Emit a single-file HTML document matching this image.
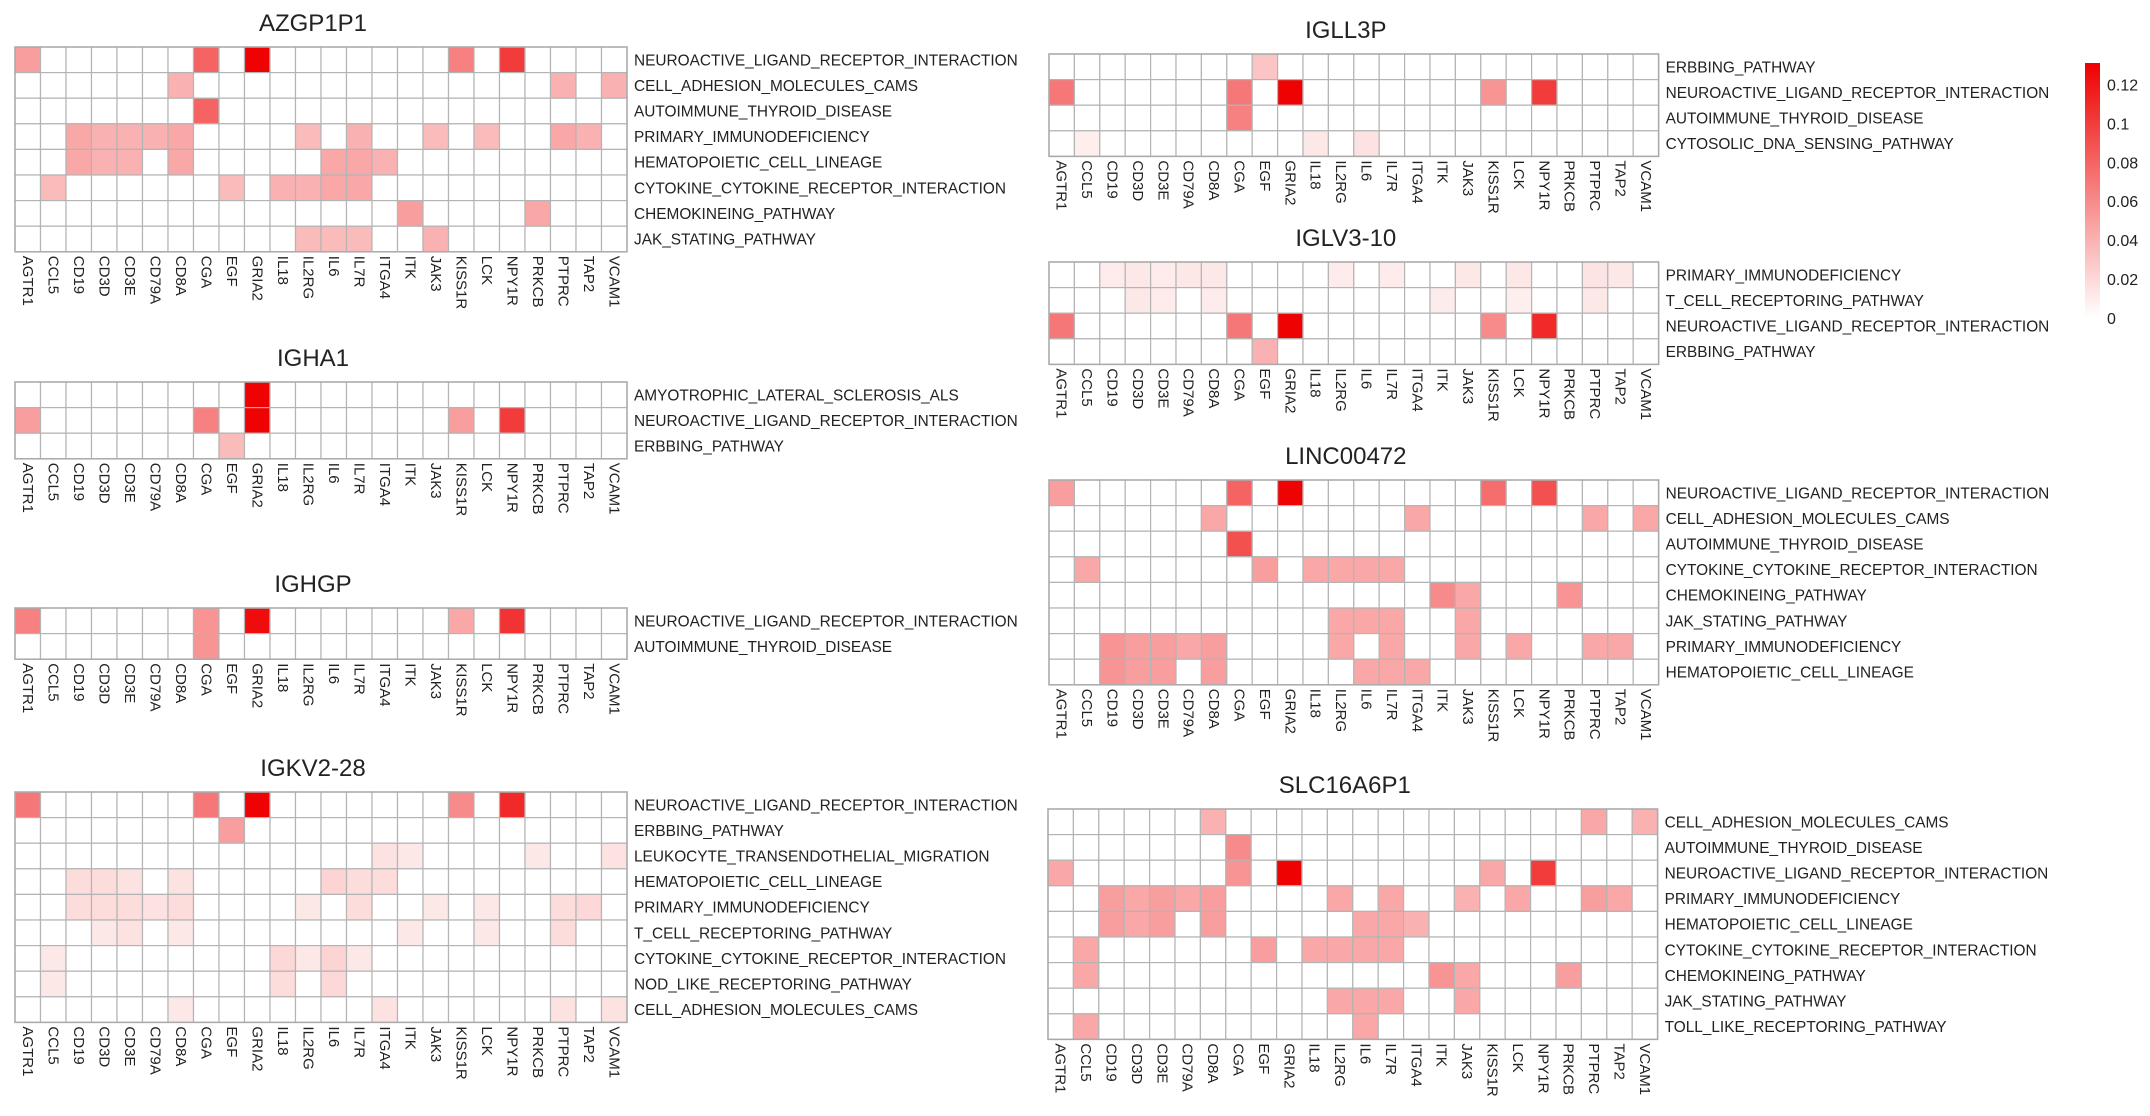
<!DOCTYPE html>
<html><head><meta charset="utf-8"><style>
html,body{margin:0;padding:0;background:#fff;}
svg{display:block;font-family:"Liberation Sans",sans-serif;}
</style></head><body>
<svg id="chart" width="2150" height="1116" viewBox="0 0 2150 1116" xmlns="http://www.w3.org/2000/svg">
<defs><linearGradient id="cbar" x1="0" y1="1" x2="0" y2="0">
<stop offset="0" stop-color="#ffffff"/><stop offset="1" stop-color="#ee0000"/></linearGradient></defs>
</svg>
<script>
const genes = ["AGTR1","CCL5","CD19","CD3D","CD3E","CD79A","CD8A","CGA","EGF","GRIA2","IL18","IL2RG","IL6","IL7R","ITGA4","ITK","JAK3","KISS1R","LCK","NPY1R","PRKCB","PTPRC","TAP2","VCAM1"];
const colorTicks = [0,0.02,0.04,0.06,0.08,0.1,0.12];
const colorTickLabels = ["0","0.02","0.04","0.06","0.08","0.1","0.12"];
const vMax = 0.131;

const azgpRows = ["NEUROACTIVE_LIGAND_RECEPTOR_INTERACTION","CELL_ADHESION_MOLECULES_CAMS","AUTOIMMUNE_THYROID_DISEASE","PRIMARY_IMMUNODEFICIENCY","HEMATOPOIETIC_CELL_LINEAGE","CYTOKINE_CYTOKINE_RECEPTOR_INTERACTION","CHEMOKINEING_PATHWAY","JAK_STATING_PATHWAY"];
const azgpValues = [
 {AGTR1:.05,CGA:.08,GRIA2:.13,KISS1R:.065,NPY1R:.1},
 {CD8A:.04,PTPRC:.04,VCAM1:.04},
 {CGA:.08},
 {CD19:.045,CD3D:.04,CD3E:.04,CD79A:.04,CD8A:.045,IL2RG:.035,IL7R:.04,JAK3:.035,LCK:.035,PTPRC:.045,TAP2:.04},
 {CD19:.045,CD3D:.04,CD3E:.04,CD8A:.045,IL6:.045,IL7R:.045,ITGA4:.04},
 {CCL5:.035,EGF:.035,IL18:.04,IL2RG:.04,IL6:.045,IL7R:.045},
 {ITK:.05,PRKCB:.045},
 {IL2RG:.035,IL6:.035,IL7R:.035,JAK3:.04}];

const igha1Rows = ["AMYOTROPHIC_LATERAL_SCLEROSIS_ALS","NEUROACTIVE_LIGAND_RECEPTOR_INTERACTION","ERBBING_PATHWAY"];
const igha1Values = [
 {GRIA2:.13},
 {AGTR1:.05,CGA:.065,GRIA2:.13,KISS1R:.05,NPY1R:.1},
 {EGF:.035}];

const ighgpRows = ["NEUROACTIVE_LIGAND_RECEPTOR_INTERACTION","AUTOIMMUNE_THYROID_DISEASE"];
const ighgpValues = [
 {AGTR1:.065,CGA:.055,GRIA2:.125,KISS1R:.045,NPY1R:.105},
 {CGA:.055}];

const igkvRows = ["NEUROACTIVE_LIGAND_RECEPTOR_INTERACTION","ERBBING_PATHWAY","LEUKOCYTE_TRANSENDOTHELIAL_MIGRATION","HEMATOPOIETIC_CELL_LINEAGE","PRIMARY_IMMUNODEFICIENCY","T_CELL_RECEPTORING_PATHWAY","CYTOKINE_CYTOKINE_RECEPTOR_INTERACTION","NOD_LIKE_RECEPTORING_PATHWAY","CELL_ADHESION_MOLECULES_CAMS"];
const igkvValues = [
 {AGTR1:.07,CGA:.07,GRIA2:.13,KISS1R:.06,NPY1R:.11},
 {EGF:.05},
 {ITGA4:.015,ITK:.012,PRKCB:.012,VCAM1:.015},
 {CD19:.018,CD3D:.018,CD3E:.015,CD8A:.015,IL6:.022,IL7R:.018,ITGA4:.018},
 {CD19:.018,CD3D:.018,CD3E:.018,CD79A:.015,CD8A:.018,IL2RG:.012,IL7R:.018,JAK3:.012,LCK:.012,PTPRC:.018,TAP2:.02},
 {CD3D:.012,CD3E:.015,CD8A:.012,ITK:.012,LCK:.012,PTPRC:.018},
 {CCL5:.012,IL18:.02,IL2RG:.012,IL6:.022,IL7R:.012},
 {CCL5:.012,IL18:.018,IL6:.02},
 {CD8A:.012,ITGA4:.015,PTPRC:.015,VCAM1:.015}];

const igll3pRows = ["ERBBING_PATHWAY","NEUROACTIVE_LIGAND_RECEPTOR_INTERACTION","AUTOIMMUNE_THYROID_DISEASE","CYTOSOLIC_DNA_SENSING_PATHWAY"];
const igll3pValues = [
 {EGF:.03},
 {AGTR1:.07,CGA:.07,GRIA2:.13,KISS1R:.055,NPY1R:.1},
 {CGA:.065},
 {CCL5:.008,IL18:.012,IL6:.015}];

const iglv3Rows = ["PRIMARY_IMMUNODEFICIENCY","T_CELL_RECEPTORING_PATHWAY","NEUROACTIVE_LIGAND_RECEPTOR_INTERACTION","ERBBING_PATHWAY"];
const iglv3Values = [
 {CD19:.01,CD3D:.012,CD3E:.01,CD79A:.012,CD8A:.012,IL2RG:.01,IL7R:.01,JAK3:.012,LCK:.012,PTPRC:.014,TAP2:.012},
 {CD3D:.012,CD3E:.01,CD8A:.01,ITK:.01,LCK:.008,PTPRC:.012},
 {AGTR1:.07,CGA:.07,GRIA2:.13,KISS1R:.06,NPY1R:.11},
 {EGF:.04}];

const lincRows = ["NEUROACTIVE_LIGAND_RECEPTOR_INTERACTION","CELL_ADHESION_MOLECULES_CAMS","AUTOIMMUNE_THYROID_DISEASE","CYTOKINE_CYTOKINE_RECEPTOR_INTERACTION","CHEMOKINEING_PATHWAY","JAK_STATING_PATHWAY","PRIMARY_IMMUNODEFICIENCY","HEMATOPOIETIC_CELL_LINEAGE"];
const lincValues = [
 {AGTR1:.05,CGA:.08,GRIA2:.13,KISS1R:.075,NPY1R:.09},
 {CD8A:.045,ITGA4:.045,PTPRC:.045,VCAM1:.045},
 {CGA:.09},
 {CCL5:.045,EGF:.05,IL18:.045,IL2RG:.045,IL6:.045,IL7R:.045},
 {ITK:.06,JAK3:.045,PRKCB:.055},
 {IL2RG:.045,IL6:.045,IL7R:.045,JAK3:.045},
 {CD19:.055,CD3D:.05,CD3E:.05,CD79A:.045,CD8A:.05,IL2RG:.045,IL7R:.045,JAK3:.045,LCK:.045,PTPRC:.045,TAP2:.045},
 {CD19:.055,CD3D:.05,CD3E:.05,CD8A:.05,IL6:.045,IL7R:.045,ITGA4:.045}];

const slcRows = ["CELL_ADHESION_MOLECULES_CAMS","AUTOIMMUNE_THYROID_DISEASE","NEUROACTIVE_LIGAND_RECEPTOR_INTERACTION","PRIMARY_IMMUNODEFICIENCY","HEMATOPOIETIC_CELL_LINEAGE","CYTOKINE_CYTOKINE_RECEPTOR_INTERACTION","CHEMOKINEING_PATHWAY","JAK_STATING_PATHWAY","TOLL_LIKE_RECEPTORING_PATHWAY"];
const slcValues = [
 {CD8A:.04,PTPRC:.045,VCAM1:.04},
 {CGA:.06},
 {AGTR1:.045,CGA:.055,GRIA2:.13,KISS1R:.045,NPY1R:.1},
 {CD19:.05,CD3D:.045,CD3E:.05,CD79A:.045,CD8A:.05,IL2RG:.045,IL7R:.045,JAK3:.04,LCK:.045,PTPRC:.05,TAP2:.045},
 {CD19:.05,CD3D:.045,CD3E:.05,CD8A:.05,IL6:.045,IL7R:.045,ITGA4:.04},
 {CCL5:.045,EGF:.05,IL18:.045,IL2RG:.045,IL6:.045,IL7R:.045},
 {CCL5:.045,ITK:.055,JAK3:.045,PRKCB:.05},
 {IL2RG:.045,IL6:.045,IL7R:.045,JAK3:.045},
 {CCL5:.045,IL6:.045}];

const panels = [
 {title:"AZGP1P1",rows:azgpRows,vals:azgpValues,x:15,y:47,cw:25.5,slug:"azgp1p1"},
 {title:"IGHA1",rows:igha1Rows,vals:igha1Values,x:15,y:382,cw:25.5,slug:"igha1"},
 {title:"IGHGP",rows:ighgpRows,vals:ighgpValues,x:15,y:608,cw:25.5,slug:"ighgp"},
 {title:"IGKV2-28",rows:igkvRows,vals:igkvValues,x:15,y:792,cw:25.5,slug:"igkv2-28"},
 {title:"IGLL3P",rows:igll3pRows,vals:igll3pValues,x:1049,y:54,cw:25.4,slug:"igll3p"},
 {title:"IGLV3-10",rows:iglv3Rows,vals:iglv3Values,x:1049,y:262,cw:25.4,slug:"iglv3-10"},
 {title:"LINC00472",rows:lincRows,vals:lincValues,x:1049,y:480,cw:25.4,slug:"linc00472"},
 {title:"SLC16A6P1",rows:slcRows,vals:slcValues,x:1048,y:809,cw:25.4,slug:"slc16a6p1"}];

const NS="http://www.w3.org/2000/svg";
const svg=document.getElementById("chart");
function mk(tag,attrs,parent){const e=document.createElementNS(NS,tag);for(const k in attrs)e.setAttribute(k,attrs[k]);(parent||svg).appendChild(e);return e;}
function color(v){const t=Math.max(0,Math.min(1,v/vMax));const r=Math.round(255-17*t),g=Math.round(255*(1-t));return `rgb(${r},${g},${g})`;}
const RH=25.6;

panels.forEach(p=>{
  const g=mk("g",{});
  
  
  const xs=i=>p.x+i*p.cw, ys=j=>p.y+j*RH;
  const W=p.cw*genes.length;
  const t=mk("text",{x:p.x+W/2-8,y:p.y-16,"text-anchor":"middle","font-size":24,fill:"#222"},g);
  t.textContent=p.title;
  
  
  p.rows.forEach((rn,j)=>{
    genes.forEach((gn,i)=>{
      const v=p.vals[j][gn]||0;
      const c=mk("rect",{x:xs(i),y:ys(j),width:p.cw,height:RH,fill:color(v),stroke:"#b4b4b4","stroke-width":1.2},g);
      
      
    });
    const l=mk("text",{x:p.x+W+7,y:ys(j)+RH/2+5.5,"font-size":15.4,fill:"#222"},g);
    l.textContent=rn;
    
    
  });
  mk("rect",{x:p.x,y:p.y,width:W,height:RH*p.rows.length,fill:"none",stroke:"#aaa","stroke-width":1.5},g);
  const by=p.y+RH*p.rows.length+4;
  genes.forEach((gn,i)=>{
    const cx=xs(i)+p.cw/2-5;
    const l=mk("text",{x:cx,y:by,"font-size":15,fill:"#222",transform:`rotate(90 ${cx} ${by})`},g);
    l.textContent=gn;
    
    
  });
});

// colorbar
const cbTop=63, cbBot=318, cbX=2085;
const cy=v=>cbBot-(v/vMax)*(cbBot-cbTop);
const cb=mk("rect",{x:cbX,y:cbTop,width:15,height:cbBot-cbTop,fill:"url(#cbar)"});


colorTicks.forEach((v,i)=>{
  const t=mk("text",{x:2107,y:cy(v)+6,"font-size":16,fill:"#222"});
  t.textContent=colorTickLabels[i];
  
  
});
</script>
</body></html>
